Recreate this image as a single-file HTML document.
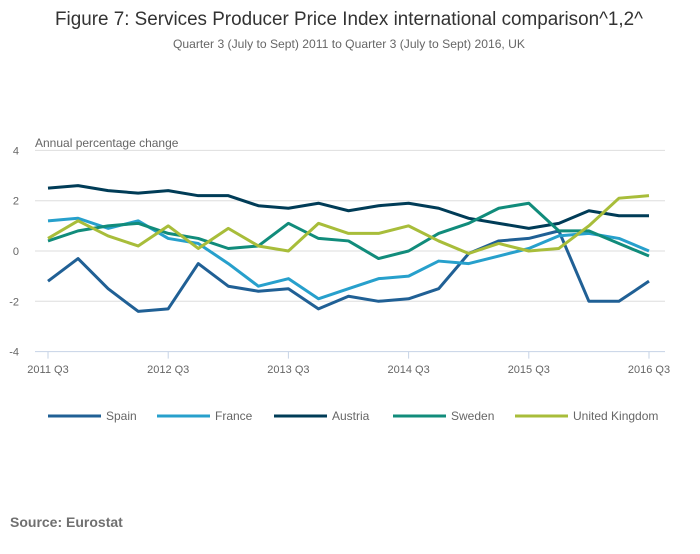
<!DOCTYPE html>
<html><head><meta charset="utf-8"><style>
body{margin:0;background:#fff;font-family:"Liberation Sans",sans-serif}
svg text{font-family:"Liberation Sans",sans-serif}
</style></head><body>
<svg id="chart" width="700" height="549">
<text x="349" y="25" font-size="19" fill="#333" text-anchor="middle" textLength="588" lengthAdjust="spacingAndGlyphs">Figure 7: Services Producer Price Index international comparison^1,2^</text>
<text x="349" y="48" font-size="12" fill="#666" text-anchor="middle" textLength="352" lengthAdjust="spacingAndGlyphs">Quarter 3 (July to Sept) 2011 to Quarter 3 (July to Sept) 2016, UK</text>
<text x="35" y="147" font-size="12" fill="#666">Annual percentage change</text>
<g id="grid"></g><g id="lines"></g><g id="legend"></g>
<text x="10" y="527" font-size="14" font-weight="bold" fill="#707070">Source: Eurostat</text>
</svg>
<script>
const categories=["2011 Q3","2011 Q4","2012 Q1","2012 Q2","2012 Q3","2012 Q4","2013 Q1","2013 Q2","2013 Q3","2013 Q4","2014 Q1","2014 Q2","2014 Q3","2014 Q4","2015 Q1","2015 Q2","2015 Q3","2015 Q4","2016 Q1","2016 Q2","2016 Q3"];
const yTicks=[4,2,0,-2,-4];
const xTickLabels=["2011 Q3","2012 Q3","2013 Q3","2014 Q3","2015 Q3","2016 Q3"];
const spain=[-1.2,-0.3,-1.5,-2.4,-2.3,-0.5,-1.4,-1.6,-1.5,-2.3,-1.8,-2.0,-1.9,-1.5,-0.1,0.4,0.5,0.8,-2.0,-2.0,-1.2];
const france=[1.2,1.3,0.9,1.2,0.5,0.3,-0.5,-1.4,-1.1,-1.9,-1.5,-1.1,-1.0,-0.4,-0.5,-0.2,0.1,0.6,0.7,0.5,0.0];
const austria=[2.5,2.6,2.4,2.3,2.4,2.2,2.2,1.8,1.7,1.9,1.6,1.8,1.9,1.7,1.3,1.1,0.9,1.1,1.6,1.4,1.4];
const sweden=[0.4,0.8,1.0,1.1,0.7,0.5,0.1,0.2,1.1,0.5,0.4,-0.3,0.0,0.7,1.1,1.7,1.9,0.8,0.8,0.3,-0.2];
const uk=[0.5,1.2,0.6,0.2,1.0,0.1,0.9,0.2,0.0,1.1,0.7,0.7,1.0,0.4,-0.1,0.3,0.0,0.1,1.0,2.1,2.2];
const seriesNames=["Spain","France","Austria","Sweden","United Kingdom"];
const ns="http://www.w3.org/2000/svg";
const X0=48,X1=649,Y0=251,PU=25.15;
const x=i=>X0+(X1-X0)*i/(categories.length-1);
const y=v=>Y0-v*PU;
function mk(t,a,p){const e=document.createElementNS(ns,t);for(const k in a)e.setAttribute(k,a[k]);p.appendChild(e);return e;}
const grid=document.getElementById('grid');
yTicks.forEach(v=>{
 if(v!==-4){const l=mk('line',{x1:35,x2:665,y1:y(v),y2:y(v),stroke:'#dedede','stroke-width':1},grid);
 
 }
 const t=mk('text',{x:19,y:y(v)+4,'font-size':11,fill:'#666','text-anchor':'end'},grid);t.textContent=v;
 
 
});
const ax=mk('line',{x1:35,x2:665,y1:y(-4),y2:y(-4),stroke:'#c6d3e6','stroke-width':1},grid);


xTickLabels.forEach(lab=>{
 const i=categories.indexOf(lab);
 mk('line',{x1:x(i),x2:x(i),y1:y(-4),y2:y(-4)+7,stroke:'#c6d3e6'},grid);
 const t=mk('text',{x:x(i),y:373,'font-size':11,fill:'#666','text-anchor':'middle'},grid);t.textContent=lab;
 
 
});
const data=[spain,france,austria,sweden,uk];
const colors=["#206095","#27a0cc","#003c57","#118c7b","#a8bd3a"];
const lines=document.getElementById('lines');
data.forEach((s,k)=>{
 const p=mk('polyline',{points:s.map((v,i)=>x(i)+','+y(v)).join(' '),fill:'none',stroke:colors[k],'stroke-width':3,'stroke-linejoin':'round'},lines);
 
 
});
const leg=document.getElementById('legend');
const lx=[48,157,274,393,515];
seriesNames.forEach((n,k)=>{
 const g=mk('g',{},leg);
 
 
 mk('line',{x1:lx[k],x2:lx[k]+53,y1:416,y2:416,stroke:colors[k],'stroke-width':3},g);
 const t=mk('text',{x:lx[k]+58,y:420,'font-size':12,fill:'#666'},g);t.textContent=n;
});
</script>
</body></html>
